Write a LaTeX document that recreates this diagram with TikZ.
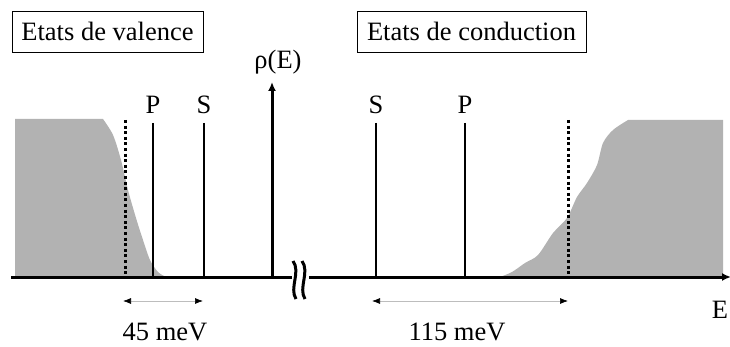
\documentclass[tikz,border=0pt]{standalone}
\usepackage{fontspec}
\setmainfont{Liberation Serif}
\usetikzlibrary{arrows.meta,positioning,calc}
\definecolor{Shade}{HTML}{B2B2B2}
\definecolor{Rule}{HTML}{BDBDBD}
\tikzset{
  lbl/.style={font=\fontsize{26.5}{30}\selectfont, inner sep=0pt},
  titlebox/.style={lbl, draw, line width=0.8pt, minimum height=41pt},
  level/.style={line width=2.5pt},
  edge/.style={line width=3pt, dash pattern=on 3pt off 2.6pt},
  axisline/.style={line width=3pt, -{Latex[length=9pt,width=8pt]}},
  span/.style={Rule, line width=0.7pt, {Latex[black,length=8pt,width=6pt]}-{Latex[black,length=8pt,width=6pt]}},
  brk/.style={line width=3pt}
}
\begin{document}
\begin{tikzpicture}[x=1pt,y=-1pt]
  \useasboundingbox (0,0) rectangle (730,347);
  % band tails
  \fill[Shade] (15,277) -- (15,119) -- plot[smooth] coordinates {(103,119) (113,135) (121,160) (128,190) (136,218) (143,240) (150,260) (158,272) (166,277)} -- cycle;
  \fill[Shade] plot[smooth] coordinates {(500,277) (512,272) (525,263) (538,255) (553,233) (567,218) (577,197) (587,183) (597,165) (603,143) (613,130) (628,120)}
    -- (723,120) -- (723,277) -- cycle;
  % titles
  \node[titlebox, minimum width=191pt] (val) at (107.5,31.5) {Etats de valence};
  \node[titlebox, minimum width=229pt] (cond) at (471.5,31.5) {Etats de conduction};
  % axes
  \coordinate (o) at (11,277);
  \coordinate (e) at (731,277);
  \coordinate (r0) at (272,277);
  \draw[axisline] (o) -- (e);
  \node[lbl] (E) at (720,310) {E};
  \node[lbl] (rho) at (278,62) {ρ(E)};
  \draw[axisline] (r0) -- (272,82);
  % gap edges
  \coordinate (gl) at (125,120);
  \coordinate (gr) at (568,120);
  \draw[edge] (gl) -- (gl |- o);
  \draw[edge] (gr) -- (gr |- o);
  % levels
  \foreach \x/\t/\n in {153/P/vP,204/S/vS,376/S/cS,465/P/cP}{
    \node[lbl] (\n) at (\x,105) {\t};
    \coordinate (\n top) at (\x,123);
    \draw[level] (\n top) -- (\n top |- o);
  }
  % axis break
  \fill[white] (292,268) rectangle (309,286);
  \draw[brk] (293,261) .. controls (301,272) and (289,288) .. (296,299);
  \draw[brk] (302,261) .. controls (310,272) and (298,288) .. (305,299);
  % splittings
  \coordinate (a1) at (123,301);
  \coordinate (a2) at (203,301);
  \coordinate (b1) at (372,301);
  \coordinate (b2) at (568,301);
  \draw[span] (a1) -- (a2);
  \draw[span] (b1) -- (b2);
  \node[lbl] (d45) at (165,332) {45 meV};
  \node[lbl] (d115) at (457,332) {115 meV};
\end{tikzpicture}
\end{document}
